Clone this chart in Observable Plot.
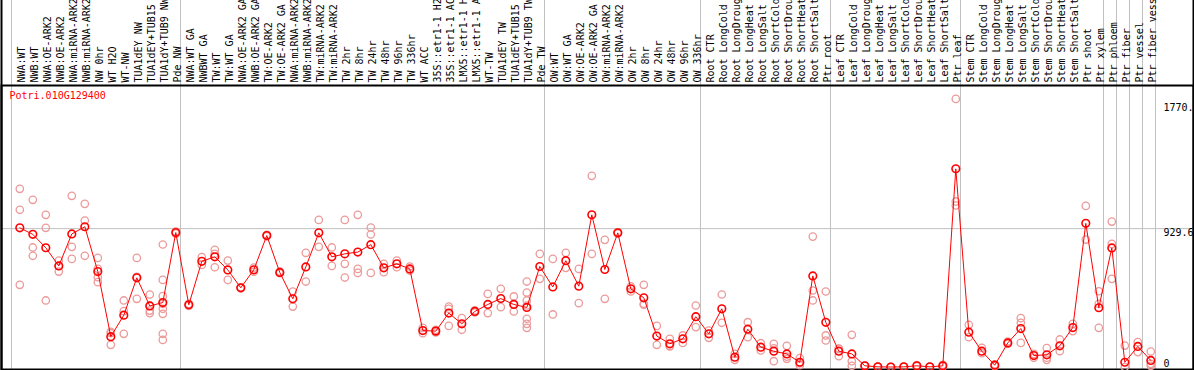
<!DOCTYPE html>
<html><head><meta charset="utf-8">
<script src="https://cdn.jsdelivr.net/npm/d3@7"></script>
<script src="https://cdn.jsdelivr.net/npm/@observablehq/plot@0.6"></script>
<style>body{margin:0;background:#fff;} svg{display:block}</style>
</head><body><div id="chart"></div>
<script>
const geneId = "Potri.010G129400";
const labels = [
  "NWA:WT","NWB:WT","NWA:OE-ARK2","NWB:OE-ARK2","NWA:miRNA-ARK2","NWB:miRNA-ARK2","NW 0hr","WT H2O","WT-NW",
  "TUA1dEY NW","TUA1dEY+TUB15 NW","TUA1dY+TUB9 NW","Pde NW",
  "NWA:WT GA","NWBWT GA","TW:WT","TW:WT GA","NWA:OE-ARK2 GA","NWB:OE-ARK2 GA","TW:OE-ARK2","TW:OE-ARK2 GA",
  "NWA:miRNA-ARK2","NWB:miRNA-ARK2","TW:miRNA-ARK2","TW:miRNA-ARK2","TW 2hr","TW 8hr","TW 24hr","TW 48hr","TW 96hr","TW 336hr",
  "WT ACC","35S::etr1-1 H2O","35S::etr1-1 ACC","LMX5::etr1-1 H2O","LMX5::etr1-1 ACC","WT-TW",
  "TUA1dEY TW","TUA1dEY+TUB15 TW","TUA1dY+TUB9 TW","Pde TW",
  "OW:WT","OW:WT GA","OW:OE-ARK2","OW:OE-ARK2 GA","OW:miRNA-ARK2","OW:miRNA-ARK2","OW 2hr","OW 8hr","OW 24hr","OW 48hr","OW 96hr","OW 336hr",
  "Root CTR","Root LongCold","Root LongDrought","Root LongHeat","Root LongSalt","Root ShortCold","Root ShortDrought","Root ShortHeat","Root ShortSalt","Ptr root",
  "Leaf CTR","Leaf LongCold","Leaf LongDrought","Leaf LongHeat","Leaf LongSalt","Leaf ShortCold","Leaf ShortDrought","Leaf ShortHeat","Leaf ShortSalt","Ptr leaf",
  "Stem CTR","Stem LongCold","Stem LongDrought","Stem LongHeat","Stem LongSalt","Stem ShortCold","Stem ShortDrought","Stem ShortHeat","Stem ShortSalt","Ptr shoot",
  "Ptr xylem","Ptr phloem","Ptr fiber","Ptr vessel","Ptr fiber vessel"
];
const means = [
  935,891,801,679,894,942,641,204,348,599,410,433,903,
  418,710,740,652,532,653,883,635,458,672,901,740,760,772,822,666,693,659,
  245,241,362,290,373,420,460,420,400,675,
  538,714,543,1022,655,901,525,465,208,156,189,338,
  223,391,66,254,133,106,88,32,612,300,
  106,88,8,1,0,1,8,1,8,1331,
  234,106,12,162,258,77,82,142,265,965,
  398,800,32,138,44
];
const replicates = [
  [1197,1056,552],[1123,803,747],[1022,935,447],[715,679,641],[1150,807,726],[1096,984,747],
  [733,660,603,570],[236,227,149],[447,375,223],[733,605,458],[487,413,379,362],
  [823,585,476,424,391,357,223,182],[910,896],
  [424,411],[738,686],[787,760,670],[715,585],[535,529],[668,640],[888,878],[641,630],
  [507,406],[767,574],[988,807],[803,679],[988,693,601],[1022,659,632],[937,890,632],
  [693,637],[715,670],[675,648],
  [263,227],[250,232],[406,391,276],[328,250],[380,366],[491,362],[525,402],[474,424,373],
  [574,500,447,413,324,290,263],[760,592],
  [726,353],[767,666],[659,429],[1284,760],[854,458],[905,897],[541,507],[552,425,418],
  [276,149],[189,141,138],[212,162],[413,268],
  [245,196],[487,297],[88,48],[301,200],[160,111],[156,125,39],[142,70,55],[60,25,12],
  [876,514,447],[507,212,178],
  [122,124,73],[216,39,8],[10,6],[2,0],[1,0],[2,0],[12,5],[2,0],[15,3],[1801,1112,1085],
  [283,200],[129,93],[18,6],[171,156],[328,297,162],[88,62],[127,62,48],[185,106],[290,241],[1082,856],
  [509,424,263],[977,827,592],[144,0],[167,100],[104,21,8]
];
const groupEnds = [-1, 12, 40, 52, 62, 72, 83, 84, 85, 86, 87];
const yTicks = [1770, 929.6, 0];
const yTickLabels = ["1770.", "929.6", "0"];

const idx = d3.range(labels.length);
const repRows = replicates.flatMap((vals, i) => vals.map(v => ({i, v})));
const font = "'DejaVu Sans Mono', monospace";

const plot = Plot.plot({
  width: 1194, height: 370,
  marginTop: 85, marginBottom: 1, marginLeft: 1, marginRight: 1,
  style: {fontFamily: font, fontSize: "10px", background: "#fff", color: "#000"},
  x: {domain: [0, labels.length - 1], range: [19.3, 1150.3], axis: null},
  y: {domain: [0, yTicks[0]], range: [366.5, 103], axis: null},
  marks: [
    Plot.ruleY([yTicks[1]], {stroke: "#c0c0c0", strokeWidth: 1}),
    Plot.ruleX(groupEnds, {x: d => d + 0.36, stroke: "#c0c0c0", strokeWidth: 1, insetTop: -85}),
    Plot.frame({stroke: "#000", strokeWidth: 2}),
    Plot.frame({anchor: "left", stroke: "#000", strokeWidth: 2, insetTop: -85}),
    Plot.frame({anchor: "right", stroke: "#000", strokeWidth: 2, insetTop: -85}),
    Plot.text(idx, {x: i => i, text: i => labels[i], frameAnchor: "top", rotate: -90, textAnchor: "start", dx: -1.5, dy: -3, fill: "#000"}),
    Plot.text([geneId], {frameAnchor: "top-left", dx: 8, dy: 6, lineAnchor: "top", fill: "#ff0000"}),
    Plot.dot(repRows, {x: "i", y: "v", r: 3.7, stroke: "#ec9a9a", strokeWidth: 1.3}),
    Plot.line(idx, {x: i => i, y: i => means[i], stroke: "#ff0000", strokeWidth: 1}),
    Plot.dot(idx, {x: i => i, y: i => means[i], r: 3.8, stroke: "#ff0000", strokeWidth: 1.6}),
    Plot.text(yTicks.slice(0, 2), {y: d => d, text: (d, i) => yTickLabels[i], frameAnchor: "right", dx: -30, textAnchor: "start", lineAnchor: "top", fill: "#000"}),
    Plot.text(yTicks.slice(2), {y: d => d, text: () => yTickLabels[2], frameAnchor: "right", dx: -30, textAnchor: "start", lineAnchor: "bottom", fill: "#000"})
  ]
});
document.getElementById("chart").appendChild(plot);
</script>
</body></html>
